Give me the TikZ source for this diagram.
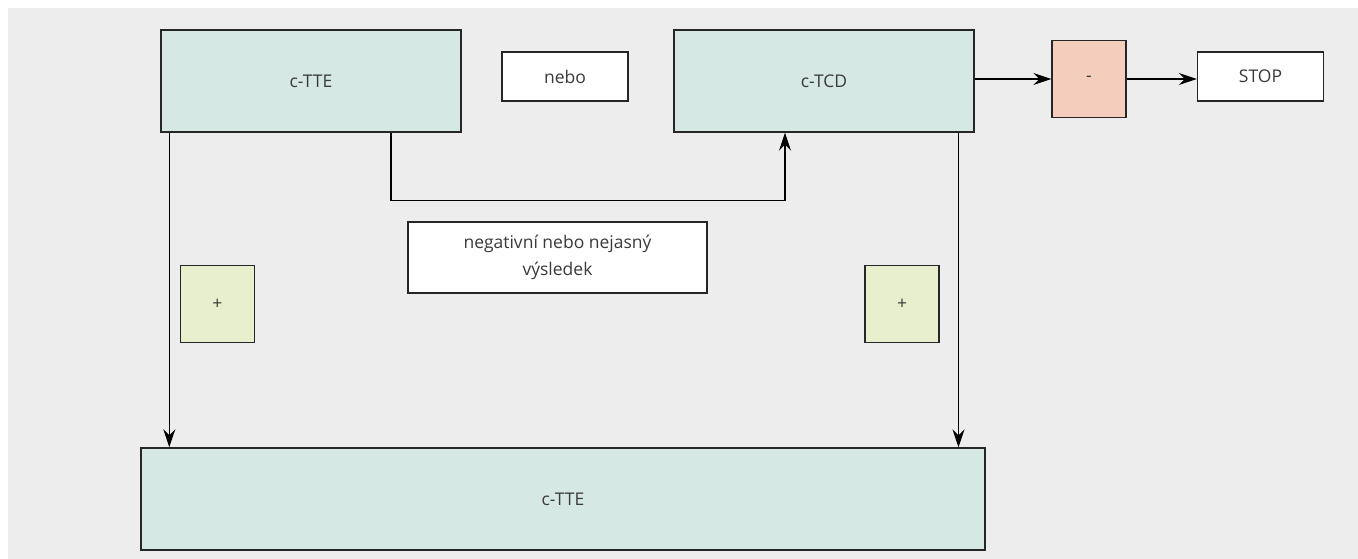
\documentclass[tikz,border=0pt]{standalone}
\usepackage{fontspec}
\setmainfont{Open Sans}
\usetikzlibrary{arrows.meta,calc}
\definecolor{bggrey}{HTML}{EDEDED}
\definecolor{tealbox}{HTML}{D5E8E4}
\definecolor{plusbox}{HTML}{E8EFCF}
\definecolor{minusbox}{HTML}{F4CDBD}
\definecolor{edge}{HTML}{262626}
\definecolor{txt}{HTML}{3A3A3A}
\tikzset{
  base/.style={draw=edge, line width=1.4pt, inner sep=0pt, anchor=center, align=center,
    text=txt, font=\fontsize{17.5}{26.5}\selectfont},
  tealnode/.style={base, fill=tealbox},
  whitenode/.style={base, fill=white},
  plusnode/.style={base, fill=plusbox, minimum width=74pt, minimum height=77pt},
  minusnode/.style={base, fill=minusbox, minimum width=74pt, minimum height=77pt},
  arr/.style={draw=black, line width=1.1pt, -{Stealth[length=18pt,width=12pt,inset=6pt]}},
  ln/.style={draw=edge, line width=1pt}
}
\begin{document}
\begin{tikzpicture}[x=1pt,y=-1pt]
\useasboundingbox (0,0) rectangle (1358,559);
\fill[white] (0,0) rectangle (1358,559);
\fill[bggrey] (8,8) rectangle (1358,559);

\node[tealnode, minimum width=300pt, minimum height=102pt] (ctte) at (311,81) {c-TTE};
\node[whitenode, minimum width=126pt, minimum height=49pt] (nebo) at (565,76.5) {nebo};
\node[tealnode, minimum width=300pt, minimum height=102pt] (ctcd) at (824,81) {c-TCD};
\node[minusnode] (minus) at (1089,79) {-};
\node[whitenode, minimum width=126pt, minimum height=49pt] (stop) at (1260.5,76.5) {STOP};
\node[whitenode, minimum width=299pt, minimum height=71pt] (neg) at (557.5,257.5) {negativní nebo nejasný\\výsledek};
\node[plusnode] (plusL) at (217.5,304) {+};
\node[plusnode] (plusR) at (902,304) {+};
\node[tealnode, minimum width=844pt, minimum height=102pt] (bottom) at (563,499) {c-TTE};

\coordinate (a1) at ([xshift=9pt]ctte.south west);
\draw[arr] (a1) -- (a1 |- bottom.north);
\coordinate (b1) at ([xshift=80pt]ctte.south);
\coordinate (b2) at ([xshift=-39pt]ctcd.south);
\draw[arr] (b1) -- ++(0,68) -| (b2);
\coordinate (c1) at ([xshift=134.5pt]ctcd.south);
\draw[arr] (c1) -- (c1 |- bottom.north);
\draw[arr] ([yshift=2pt]ctcd.east) -- ([yshift=2pt]ctcd.east -| minus.west);
\draw[arr] (minus.east) -- (minus.east -| stop.west);
\end{tikzpicture}
\end{document}
